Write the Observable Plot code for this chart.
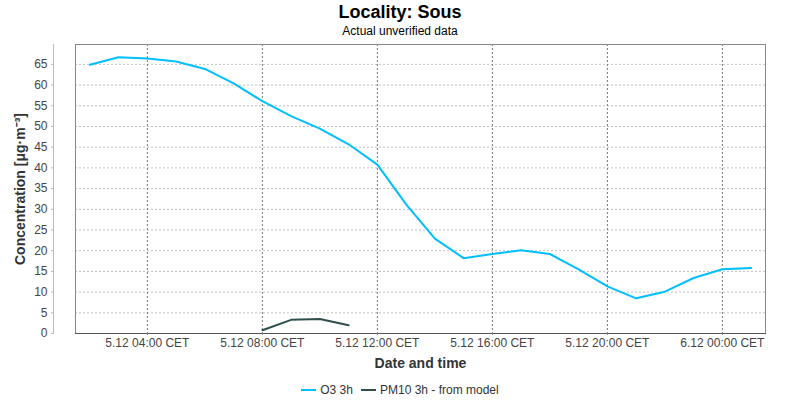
<!DOCTYPE html>
<html>
<head>
<meta charset="utf-8">
<script src="https://cdn.jsdelivr.net/npm/d3@7"></script>
<script src="https://cdn.jsdelivr.net/npm/@observablehq/plot@0.6"></script>
<style>
  body { margin: 0; background: #fff; font-family: "Liberation Sans", Arial, sans-serif; }
  #wrap { width: 800px; height: 400px; position: relative; }
  #title { height: 23px; line-height: 24px; text-align: center; font-weight: bold; font-size: 18px; color: #000; }
  #subtitle { height: 17px; line-height: 16px; text-align: center; font-size: 12px; color: #000; }
  #legend { display: flex; justify-content: center; align-items: center; gap: 8px; font-size: 12px; color: #333; margin-top: 13px; }
  .sw { display: inline-block; width: 15px; height: 2px; margin-right: 4px; vertical-align: middle; }
  .item { display: flex; align-items: center; }
</style>
</head>
<body>
<div id="wrap">
  <div id="title">Locality: Sous</div>
  <div id="subtitle">Actual unverified data</div>
  <div id="chart"></div>
  <div id="legend"></div>
</div>
<script>
const hours = [
  "2024-12-05T02:00","2024-12-05T03:00","2024-12-05T04:00","2024-12-05T05:00",
  "2024-12-05T06:00","2024-12-05T07:00","2024-12-05T08:00","2024-12-05T09:00",
  "2024-12-05T10:00","2024-12-05T11:00","2024-12-05T12:00","2024-12-05T13:00",
  "2024-12-05T14:00","2024-12-05T15:00","2024-12-05T16:00","2024-12-05T17:00",
  "2024-12-05T18:00","2024-12-05T19:00","2024-12-05T20:00","2024-12-05T21:00",
  "2024-12-05T22:00","2024-12-05T23:00","2024-12-06T00:00","2024-12-06T01:00"
];
const o3 = [64.9, 66.7, 66.4, 65.7, 63.9, 60.4, 56.1, 52.5, 49.5, 45.7, 40.8, 31.2,
            22.9, 18.2, 19.2, 20.1, 19.2, 15.5, 11.4, 8.5, 10.1, 13.4, 15.5, 15.8];
const pm10Hours = ["2024-12-05T08:00","2024-12-05T09:00","2024-12-05T10:00","2024-12-05T11:00"];
const pm10 = [0.8, 3.3, 3.5, 2.0];
const xTicks = ["2024-12-05T04:00","2024-12-05T08:00","2024-12-05T12:00","2024-12-05T16:00","2024-12-05T20:00","2024-12-06T00:00"];
const xDomain = ["2024-12-05T01:30","2024-12-06T01:30"];
const yTicks = [0,5,10,15,20,25,30,35,40,45,50,55,60,65];
const yDomain = [0, 69.8];
const seriesNames = ["O3 3h", "PM10 3h - from model"];
const seriesColors = ["#00bfff", "#2f4f4f"];

const utc = s => new Date(s + ":00Z");
const o3Data = hours.map((h, i) => ({t: utc(h), v: o3[i], s: seriesNames[0]}));
const pmData = pm10Hours.map((h, i) => ({t: utc(h), v: pm10[i], s: seriesNames[1]}));
const pad = n => String(n).padStart(2, "0");
const fmt = d => `${d.getUTCDate()}.${d.getUTCMonth() + 1} ${pad(d.getUTCHours())}:${pad(d.getUTCMinutes())} CET`;

const chart = Plot.plot({
  width: 800,
  height: 330,
  marginLeft: 75,
  marginRight: 35,
  marginTop: 4,
  marginBottom: 37,
  style: { fontFamily: "Liberation Sans, Arial, sans-serif", fontSize: "12px", color: "#444", background: "#fff" },
  x: { type: "utc", domain: xDomain.map(utc) },
  y: { domain: yDomain },
  color: { domain: seriesNames, range: seriesColors },
  marks: [
    Plot.gridY(yTicks, { stroke: "#c0c0c0", strokeOpacity: 1, strokeDasharray: "2,2" }),
    Plot.gridX(xTicks.map(utc), { stroke: "#777", strokeOpacity: 1, strokeDasharray: "2,2" }),
    Plot.frame({ stroke: "#888" }),
    Plot.frame({ anchor: "bottom", stroke: "#555" }),
    Plot.frame({ anchor: "left", dx: -22, stroke: "#bbb" }),
    Plot.axisY(yTicks, { dx: -22, tickSize: 2, tickPadding: 4, stroke: "#bbb", fill: "#444",
      label: "Concentration [μg·m⁻³]", labelAnchor: "center", labelArrow: "none", labelOffset: 60 }),
    Plot.axisX(xTicks.map(utc), { tickSize: 2, tickPadding: 3, tickFormat: fmt, stroke: "#888", fill: "#444",
      label: "Date and time", labelAnchor: "center", labelArrow: "none", labelOffset: 34 }),
    Plot.line(o3Data, { x: "t", y: "v", stroke: "s", strokeWidth: 2 }),
    Plot.line(pmData, { x: "t", y: "v", stroke: "s", strokeWidth: 2 })
  ]
});
document.getElementById("chart").appendChild(chart);
chart.querySelectorAll('[aria-label$="axis label"] text').forEach(t => {
  t.setAttribute("fill", "#333"); t.style.fontSize = "14px"; t.style.fontWeight = "bold";
});

const legend = document.getElementById("legend");
seriesNames.forEach((n, i) => {
  const it = document.createElement("span");
  it.className = "item";
  it.innerHTML = `<span class="sw" style="background:${seriesColors[i]}"></span>${n}`;
  legend.appendChild(it);
});
</script>
</body>
</html>
